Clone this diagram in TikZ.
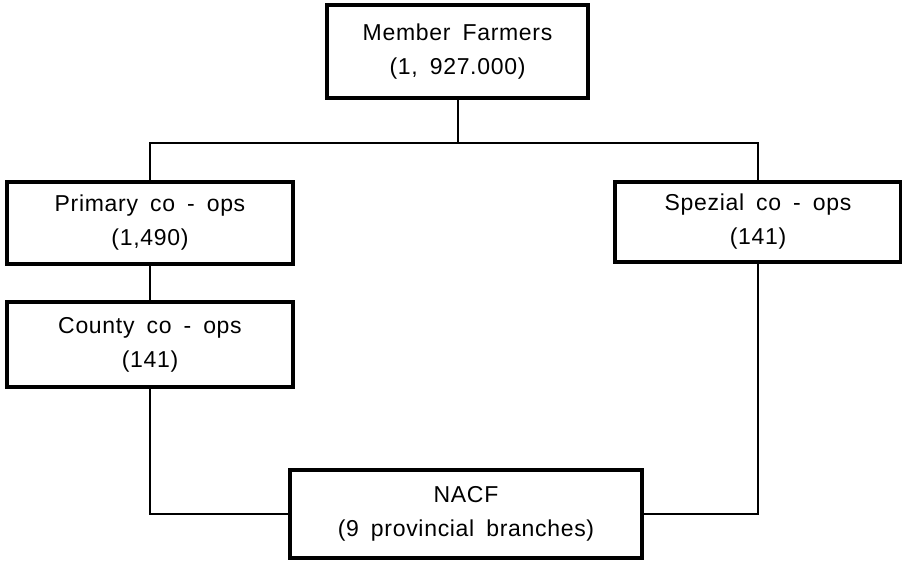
\documentclass[tikz,border=0pt]{standalone}
\usepackage{fontspec}
\setmainfont{Liberation Sans}[LetterSpace=3, WordSpace=1.7]
\usetikzlibrary{positioning}

\begin{document}
\begin{tikzpicture}[x=1pt, y=1pt]
		% Node style
		\tikzset{box style/.style={draw,
								rectangle,
								align=center,
								line width=3.2pt,
								font=\fontsize{23}{34}\selectfont},
				link style/.style={line width=2pt}}

		\useasboundingbox (0, 0) rectangle (902, 563);

		% Draw nodes
		\node[box style, minimum width=261, minimum height=93] at (457.5, 511.5)	(M) {Member Farmers\\(1, 927.000)};
		\node[box style, minimum width=286, minimum height=82] at (150, 340)		(P) {Primary co - ops\\(1,490)};
		\node[box style, minimum width=286, minimum height=85] at (150, 218.5)		(C) {County co - ops\\(141)};
		\node[box style, minimum width=286, minimum height=80] at (758, 341)		(S) {Spezial co - ops\\(141)};
		\node[box style, minimum width=352, minimum height=88] at (466, 49)			(N) {NACF\\(9 provincial branches)};

		% Draw connectors
		\coordinate (J) at (457.5, 420);
		\draw[link style] (M.south) -- (J);
		\draw[link style] (P.north) |- (J) -| (S.north);
		\draw[link style] (P.south) -- (C.north);
		\draw[link style] (C.south) |- (N.west);
		\draw[link style] (S.south) |- (N.east);

	\end{tikzpicture}
\end{document}
